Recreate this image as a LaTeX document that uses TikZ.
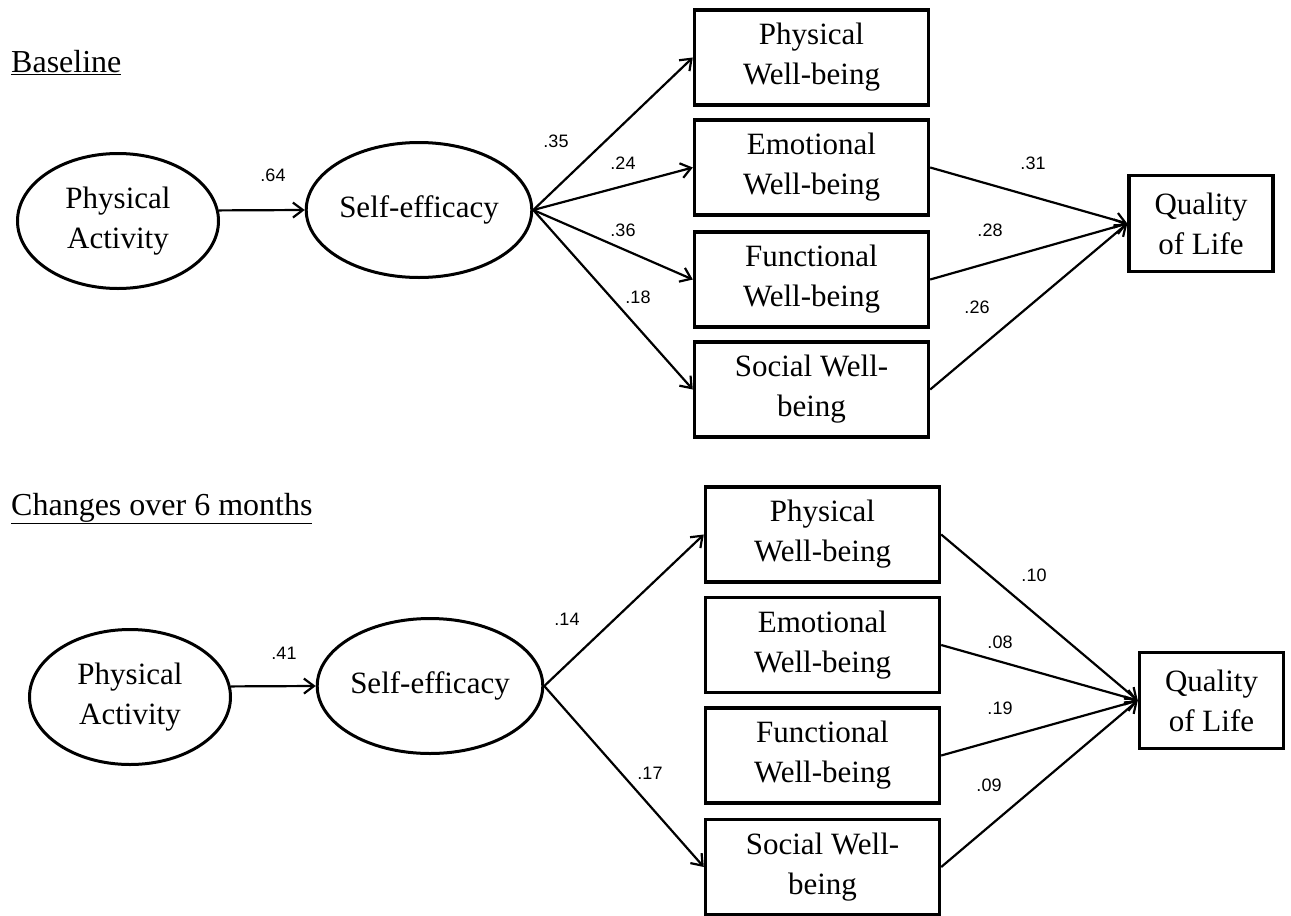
\documentclass[tikz,border=0pt]{standalone}
\usepackage{fontspec}
\setmainfont{Liberation Serif}
\newfontfamily\lblfont{Liberation Sans}
\usetikzlibrary{shapes.geometric,arrows.meta}
\begin{document}
\begin{tikzpicture}[x=1pt,y=-1pt,
  txt/.style={font=\fontsize{31}{40}\selectfont, align=center},
  oval/.style={draw, ellipse, line width=3pt, inner sep=0pt, minimum width=201pt, minimum height=135pt, txt},
  wbox/.style={draw, rectangle, line width=3.4pt, inner sep=0pt, minimum width=234pt, minimum height=95pt, txt},
  qbox/.style={draw, rectangle, line width=3.4pt, inner sep=0pt, minimum width=144pt, minimum height=96pt, txt},
  arr/.style={line width=2.2pt, -{Straight Barb[length=10pt,width=15pt]}},
  lbl/.style={font=\lblfont\fontsize{18}{20}\selectfont, inner sep=0pt},
  hdr/.style={font=\fontsize{32}{40}\selectfont, anchor=base west, inner sep=0pt}]
\useasboundingbox (0,0) rectangle (1291,916);
% ---------- Baseline ----------
\node[hdr] (h1) at (11,72) {\underline{Baseline}};
\node[oval] (PA1) at (118,221) {Physical\\Activity};
\node[oval] (SE1) at (419,210) {Self-efficacy};
\node[wbox] (PW1) at (811.5,57.5) {Physical\\Well-being};
\node[wbox] (EW1) at (811.5,167.5) {Emotional\\Well-being};
\node[wbox] (FW1) at (811.5,279.5) {Functional\\Well-being};
\node[wbox] (SW1) at (811.5,389.5) {Social Well-\\being};
\node[qbox] (QL1) at (1201,223.5) {Quality\\of Life};
\draw[arr] (PA1.6) -- (SE1.west);
\draw[arr] (SE1.east) -- (PW1.west);
\draw[arr] (SE1.east) -- (EW1.west);
\draw[arr] (SE1.east) -- (FW1.west);
\draw[arr] (SE1.east) -- (SW1.west);
\draw[arr] (EW1.east) -- (QL1.west);
\draw[arr] (FW1.east) -- (QL1.west);
\draw[arr] (SW1.east) -- (QL1.west);
\node[lbl] (a64) at (273,175) {.64};
\node[lbl] (a35) at (556,141) {.35};
\node[lbl] (a24) at (623,163) {.24};
\node[lbl] (a36) at (623,230) {.36};
\node[lbl] (a18) at (638,297) {.18};
\node[lbl] (a31) at (1033,163) {.31};
\node[lbl] (a28) at (990,230) {.28};
\node[lbl] (a26) at (977,307) {.26};
% ---------- Changes ----------
\node[hdr] (h2) at (11,515) {\underline{Changes over 6 months}};
\node[oval] (PA2) at (130,697) {Physical\\Activity};
\node[oval] (SE2) at (430,686) {Self-efficacy};
\node[wbox] (PW2) at (822.5,534.5) {Physical\\Well-being};
\node[wbox] (EW2) at (822.5,645) {Emotional\\Well-being};
\node[wbox] (FW2) at (822.5,755.5) {Functional\\Well-being};
\node[wbox] (SW2) at (822.5,867) {Social Well-\\being};
\node[qbox] (QL2) at (1211.5,700.5) {Quality\\of Life};
\draw[arr] (PA2.6) -- (SE2.west);
\draw[arr] (SE2.east) -- (PW2.west);
\draw[arr] (SE2.east) -- (SW2.west);
\draw[arr] (PW2.east) -- (QL2.west);
\draw[arr] (EW2.east) -- (QL2.west);
\draw[arr] (FW2.east) -- (QL2.west);
\draw[arr] (SW2.east) -- (QL2.west);
\node[lbl] (b41) at (284,653) {.41};
\node[lbl] (b14) at (567,619) {.14};
\node[lbl] (b17) at (650,773) {.17};
\node[lbl] (b10) at (1034,575) {.10};
\node[lbl] (b08) at (1000,642) {.08};
\node[lbl] (b19) at (1000,708) {.19};
\node[lbl] (b09) at (989,785) {.09};
\end{tikzpicture}
\end{document}
